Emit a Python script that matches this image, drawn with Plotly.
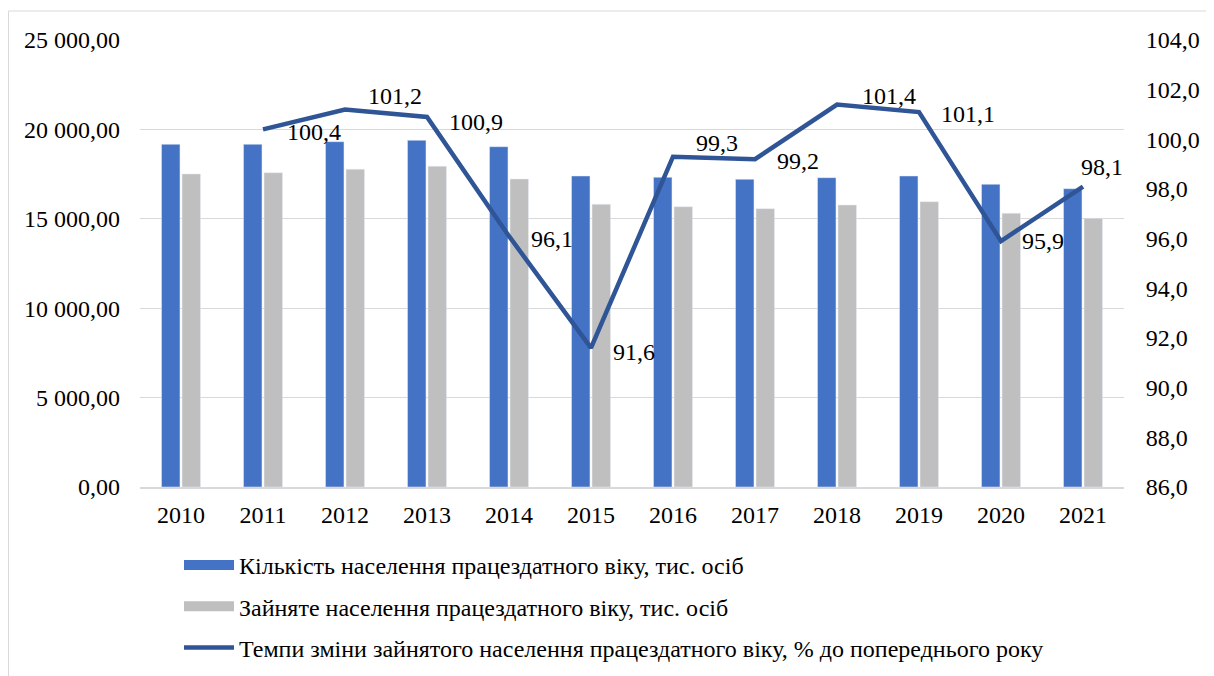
import plotly.graph_objects as go

years = ["2010", "2011", "2012", "2013", "2014", "2015", "2016", "2017", "2018", "2019", "2020", "2021"]
working_age = [19167, 19167, 19312, 19391, 19033, 17394, 17321, 17209, 17300, 17394, 16930, 16684]
employed = [17506, 17579, 17769, 17937, 17226, 15811, 15677, 15566, 15772, 15957, 15308, 15028]
rate_years = ["2011", "2012", "2013", "2014", "2015", "2016", "2017", "2018", "2019", "2020", "2021"]
rate = [100.4, 101.2, 100.9, 96.1, 91.6, 99.3, 99.2, 101.4, 101.1, 95.9, 98.1]

names = [
    "Кількість населення працездатного віку, тис. осіб",
    "Зайняте населення працездатного віку, тис. осіб",
    "Темпи зміни зайнятого населення працездатного віку, % до попереднього року",
]

# label offsets in pixels (styling only)
label_dx = [51, 50, 49, 43, 43, 44, 43, 52, 49, 42, 19]
label_dy = [-3, 14, -5, -3, -4, 14, -2, 9, -2, 0, 20]

FONT = "Liberation Serif, DejaVu Serif, serif"
FS = 24
BLUE, GREY, LINE = "#4472C4", "#BFBFBF", "#2F5597"

# plot area (figure pixels)
L, T, R, B = 132, 32, 1116, 479
PW, PH = R - L, B - T

fig = go.Figure()
fig.add_trace(go.Bar(x=years, y=working_age, name=names[0], marker_color=BLUE,
                     showlegend=False))
fig.add_trace(go.Bar(x=years, y=employed, name=names[1], marker_color=GREY,
                     showlegend=False))
fig.add_trace(go.Scatter(x=rate_years, y=rate, name=names[2], mode="lines",
                         line=dict(color=LINE, width=4.5), yaxis="y2",
                         legendgroup="c", legendrank=3))
# legend entries for the bars drawn as wide rectangles
fig.add_trace(go.Scatter(x=[None], y=[None], name=names[0], mode="lines",
                         line=dict(color=BLUE, width=13), legendgroup="a", legendrank=1))
fig.add_trace(go.Scatter(x=[None], y=[None], name=names[1], mode="lines",
                         line=dict(color=GREY, width=13), legendgroup="b", legendrank=2))

for yr, v, dx, dy in zip(rate_years, rate, label_dx, label_dy):
    fig.add_annotation(x=years.index(yr), y=v, yref="y2", text=f"{v:.1f}".replace(".", ","),
                       showarrow=False, xshift=dx, yshift=dy,
                       font=dict(family=FONT, size=FS, color="black"))

# outer chart border
fig.add_shape(type="rect", xref="paper", yref="paper",
              x0=(0.5 - L) / PW, x1=(1205 - L) / PW,
              y0=(B - 700) / PH, y1=(B - 3) / PH,
              line=dict(color="#D9D9D9", width=1), fillcolor="rgba(0,0,0,0)", layer="below")

fig.update_layout(
    width=1214, height=676,
    margin=dict(l=L, r=1214 - R, t=T, b=676 - B, autoexpand=False),
    paper_bgcolor="white", plot_bgcolor="white",
    font=dict(family=FONT, size=FS, color="black"),
    separators=", ",
    barmode="group", bargap=0.5, bargroupgap=0.1,
    xaxis=dict(type="category", range=[-0.5, 11.5], showgrid=False, showline=True,
               linecolor="#D9D9D9", linewidth=2, automargin=False,
               ticks="", ticklabelstandoff=5, tickfont=dict(size=FS)),
    yaxis=dict(range=[0, 25000], dtick=5000, tickformat=",.2f", showgrid=True,
               gridcolor="#D9D9D9", gridwidth=1, zeroline=False, showline=False,
               automargin=False, ticks="", ticklabelstandoff=19, tickfont=dict(size=FS)),
    yaxis2=dict(range=[86, 104], dtick=2, tickformat=".1f", overlaying="y", side="right",
                showgrid=False, zeroline=False, showline=False, automargin=False,
                ticks="outside", ticklen=16, tickcolor="rgba(0,0,0,0)",
                tickfont=dict(size=FS)),
    showlegend=True,
    legend=dict(orientation="v", x=(171 - L) / PW, xanchor="left", y=(B - 535) / PH,
                yanchor="top", font=dict(family=FONT, size=FS, color="black"),
                tracegroupgap=7, bgcolor="rgba(0,0,0,0)", itemwidth=50),
)

fig.write_html("out.html")
